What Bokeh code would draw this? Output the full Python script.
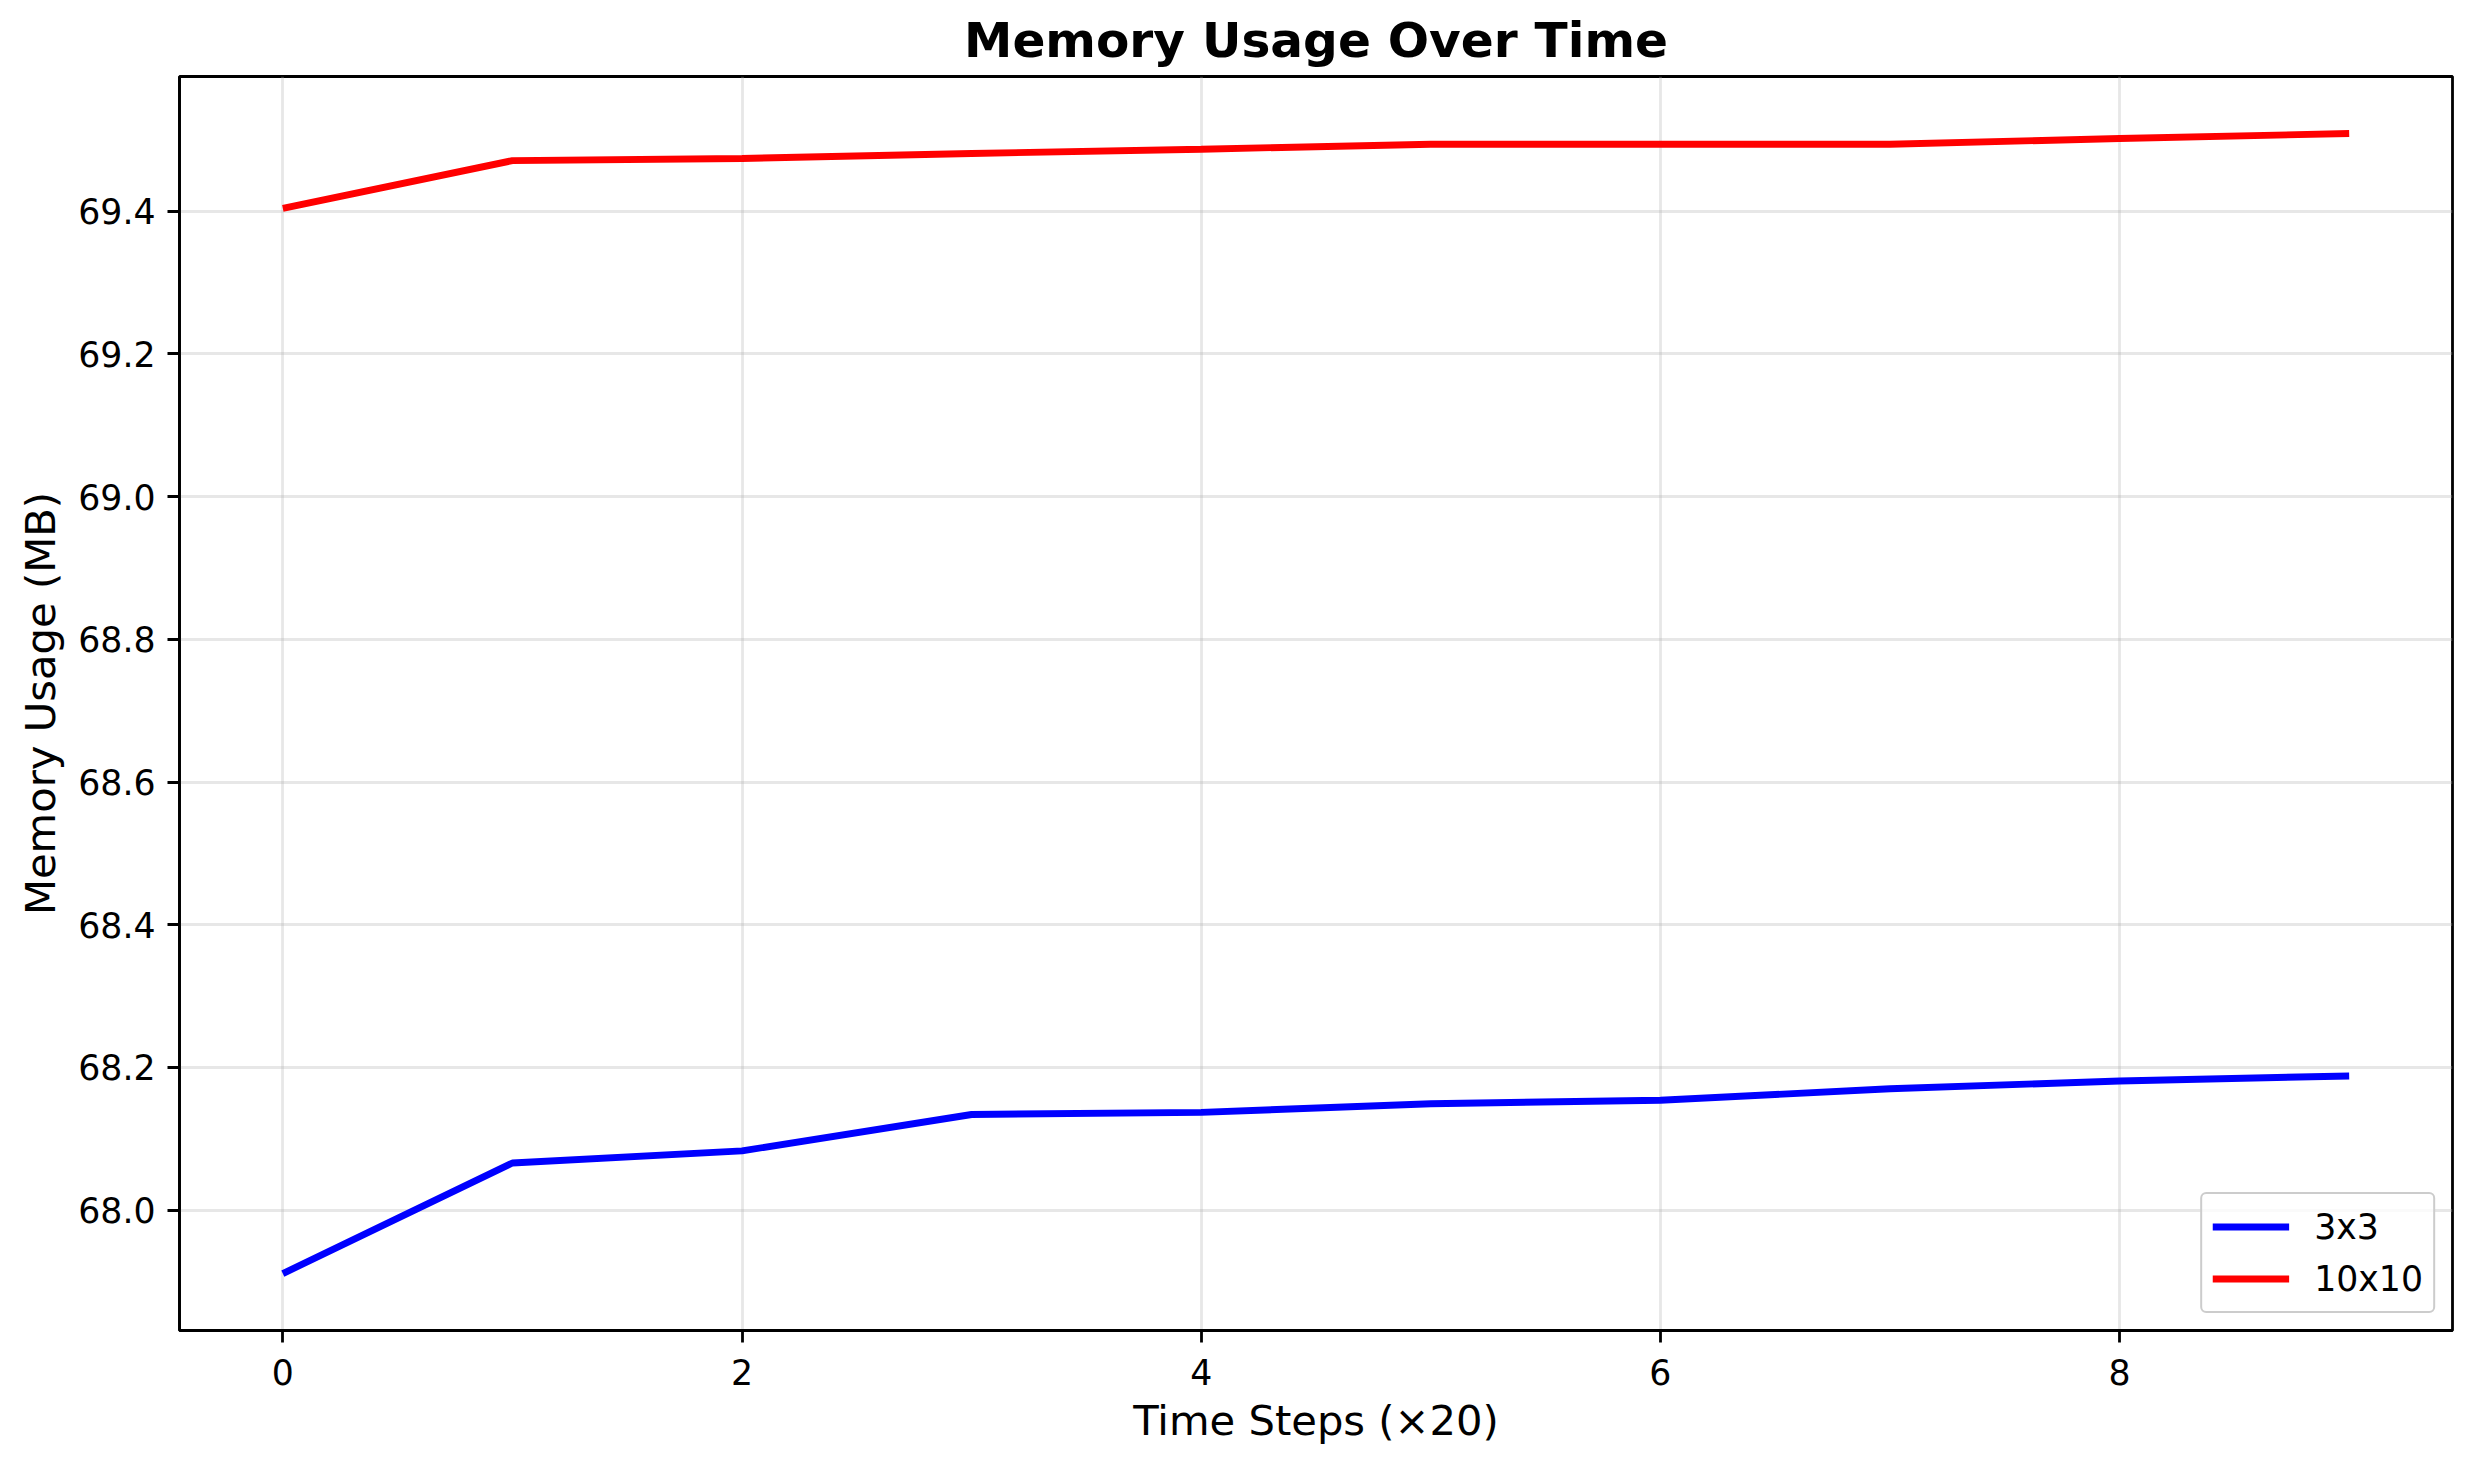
from bokeh.plotting import figure
from bokeh.models import Range1d, FixedTicker, Legend, LegendItem, CustomJSTickFormatter
from bokeh.embed import file_html
from bokeh.resources import INLINE

# ---- data ----
time_steps = [0, 1, 2, 3, 4, 5, 6, 7, 8, 9]
mem_3x3 = [67.911, 68.066, 68.083, 68.134, 68.137, 68.149, 68.154, 68.170, 68.181, 68.188]
mem_10x10 = [69.404, 69.471, 69.474, 69.481, 69.487, 69.494, 69.494, 69.494, 69.502, 69.509]
series_names = ["3x3", "10x10"]
series_colors = ["blue", "red"]
x_ticks = [0, 2, 4, 6, 8]
y_ticks = [68.0, 68.2, 68.4, 68.6, 68.8, 69.0, 69.2, 69.4]

FONT = "DejaVu Sans"
LW = 6.9

p = figure(width=2465, height=1462, output_backend="svg", toolbar_location=None,
           x_range=Range1d(-0.45, 9.45), y_range=Range1d(67.8312, 69.5889),
           min_border_left=179, min_border_right=13, min_border_top=70, min_border_bottom=132)

p.title.text = "Memory Usage Over Time"
p.title.text_font = FONT
p.title.text_font_size = "48.6px"
p.title.text_font_style = "bold"
p.title.text_color = "black"
p.title.align = "center"
p.title.standoff = 18

r1 = p.line(time_steps, mem_3x3, line_color=series_colors[0], line_width=LW)
r2 = p.line(time_steps, mem_10x10, line_color=series_colors[1], line_width=LW)

p.outline_line_color = "black"
p.outline_line_width = 2.8
p.outline_line_alpha = 1.0
p.background_fill_color = "white"
p.border_fill_color = "white"

for ax in (p.xaxis[0], p.yaxis[0]):
    ax.axis_line_width = 2.8
    ax.axis_line_color = "black"
    ax.major_tick_line_width = 2.8
    ax.major_tick_line_color = "black"
    ax.major_tick_out = 12
    ax.major_tick_in = 0
    ax.minor_tick_out = 0
    ax.minor_tick_in = 0
    ax.major_label_text_font = FONT
    ax.major_label_text_font_size = "34.7px"
    ax.major_label_text_color = "black"
    ax.axis_label_text_font = FONT
    ax.axis_label_text_font_size = "41.7px"
    ax.axis_label_text_font_style = "normal"
    ax.axis_label_text_color = "black"

p.xaxis[0].major_label_standoff = 16
p.yaxis[0].major_label_standoff = 12
p.xaxis[0].ticker = FixedTicker(ticks=x_ticks)
p.yaxis[0].ticker = FixedTicker(ticks=y_ticks)
p.yaxis[0].formatter = CustomJSTickFormatter(code="return tick.toFixed(1);")
p.xaxis[0].axis_label = "Time Steps (\u00d720)"
p.yaxis[0].axis_label = "Memory Usage (MB)"
p.xaxis[0].axis_label_standoff = 8
p.yaxis[0].axis_label_standoff = 10

for g in (p.xgrid[0], p.ygrid[0]):
    g.grid_line_color = "#b0b0b0"
    g.grid_line_alpha = 0.3
    g.grid_line_width = 2.8
p.xgrid[0].ticker = FixedTicker(ticks=x_ticks)
p.ygrid[0].ticker = FixedTicker(ticks=y_ticks)

legend = Legend(items=[LegendItem(label=series_names[0], renderers=[r1]),
                       LegendItem(label=series_names[1], renderers=[r2])],
                location="bottom_right")
legend.label_text_font = FONT
legend.label_text_font_size = "34.7px"
legend.label_text_color = "black"
legend.glyph_width = 77
legend.glyph_height = 45
legend.label_height = 45
legend.label_standoff = 25
legend.spacing = 7
legend.padding = 10
legend.margin = 17
legend.border_line_color = "#cccccc"
legend.border_line_width = 2.8
legend.border_line_alpha = 1.0
legend.border_radius = 6
legend.background_fill_color = "white"
legend.background_fill_alpha = 0.8
p.add_layout(legend)

open("out.html", "w").write(file_html(p, INLINE))
